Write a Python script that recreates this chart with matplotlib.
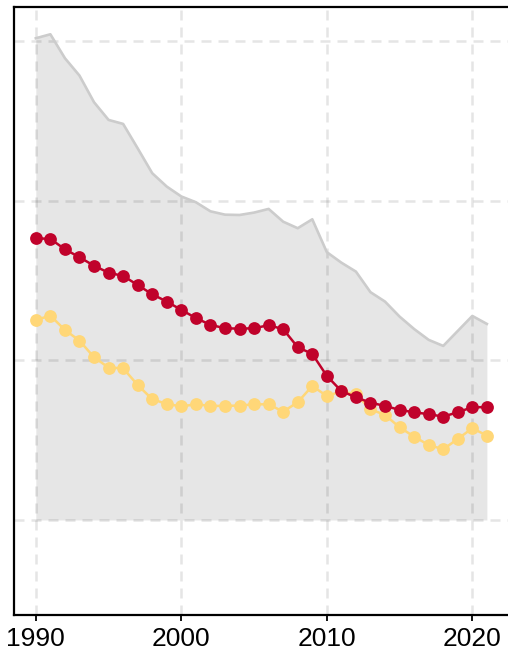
import numpy as np
import matplotlib
matplotlib.use("Agg")
import matplotlib.pyplot as plt

# --- data (arbitrary units, grid at 0/10/20/30) ---
years = list(range(1990, 2022))

upper_total = [30.20, 30.45, 28.95, 27.86, 26.19, 25.08, 24.83, 23.30, 21.74, 20.90,
               20.28, 19.92, 19.35, 19.14, 19.12, 19.27, 19.50, 18.70, 18.29, 18.85,
               16.79, 16.13, 15.57, 14.28, 13.69, 12.75, 11.97, 11.29, 10.91, 11.85,
               12.79, 12.29]

red_series = [17.66, 17.62, 16.97, 16.47, 15.94, 15.50, 15.30, 14.73, 14.15, 13.69,
              13.17, 12.66, 12.23, 12.02, 11.99, 12.02, 12.21, 11.96, 10.83, 10.41,
              9.03, 8.08, 7.69, 7.35, 7.15, 6.90, 6.75, 6.63, 6.48, 6.75,
              7.07, 7.07]

yellow_series = [12.54, 12.81, 11.91, 11.24, 10.20, 9.55, 9.51, 8.46, 7.57, 7.27,
                 7.12, 7.25, 7.15, 7.15, 7.17, 7.25, 7.25, 6.79, 7.38, 8.40,
                 7.77, 8.06, 7.88, 6.94, 6.58, 5.81, 5.22, 4.70, 4.43, 5.08,
                 5.75, 5.29]

x_ticks = [1990, 2000, 2010, 2020]
y_grid = [0, 10, 20, 30]

RED = "#c0022b"
YELLOW = "#ffd778"

plt.rcParams["font.family"] = ["Liberation Sans", "DejaVu Sans"]

fig = plt.figure(figsize=(5.08, 6.53), dpi=100)
ax = fig.add_axes([14 / 508, 38 / 653, 494.7 / 508, 608 / 653])

# --- grey band ---
ax.fill_between(years, 0, upper_total, color="#e6e6e6", linewidth=0, zorder=1)
ax.plot(years, upper_total, color="#cccccc", linewidth=1.9, zorder=2)

# --- series ---
ax.plot(years, yellow_series, color=YELLOW, linewidth=1.8, marker="o",
        markersize=9.2, markeredgewidth=0, zorder=3)
ax.plot(years, red_series, color=RED, linewidth=1.8, marker="o",
        markersize=9.2, markeredgewidth=0, zorder=4)

# --- axes formatting ---
ax.set_xlim(1988.5, 2022.5)
ax.set_ylim(-5.96, 32.16)
ax.set_xticks(x_ticks)
ax.set_yticks(y_grid)
ax.set_yticklabels([])
ax.tick_params(axis="y", length=0)
ax.tick_params(axis="x", length=4, width=1.3, labelsize=19, pad=5, color="black")

ax.set_axisbelow("line")
ax.grid(True, color="black", alpha=0.1, linewidth=1.8, linestyle=(0, (4, 2.8)))

ax.spines["right"].set_visible(False)
for side in ("left", "top", "bottom"):
    ax.spines[side].set_linewidth(1.6)

fig.savefig("out.png", dpi=100)
